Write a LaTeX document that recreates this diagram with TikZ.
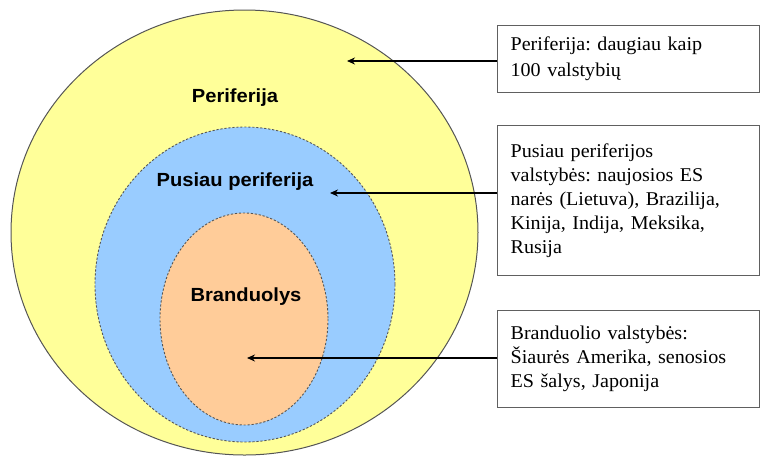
\documentclass[tikz,border=0pt]{standalone}
\usepackage{fontspec}
\setmainfont{Liberation Serif}
\newfontfamily\labelfont[FakeStretch=1.06]{Liberation Sans}
\newfontfamily\notefont[FakeStretch=1.03]{Liberation Serif}
\usetikzlibrary{arrows.meta}
\frenchspacing
\definecolor{periyellow}{HTML}{FFFF99}
\definecolor{semiblue}{HTML}{99CCFF}
\definecolor{coreorange}{HTML}{FFCC99}
\definecolor{rimgray}{HTML}{555555}
\tikzset{
  zonelabel/.style={font=\labelfont\bfseries\fontsize{19}{22}\selectfont, inner sep=0pt},
  dashedrim/.style={draw=rimgray, line width=0.9pt, dash pattern=on 2.2pt off 1.8pt},
  notebox/.style={draw=gray!75!black, line width=1.3pt, fill=white, anchor=north west,
    minimum width=262pt, text width=236pt, inner xsep=13pt, align=left,
    font=\notefont\fontsize{19.5}{24}\selectfont},
  pointer/.style={line width=1.4pt, -{Stealth[length=8pt,width=7pt]}}
}
\begin{document}
\begin{tikzpicture}[x=1pt,y=-1pt]
\useasboundingbox (0,0) rectangle (761,456);
% nested zones
\fill[periyellow] (244.5,232.5) ellipse [x radius=233.5, y radius=222.5];
\draw[rimgray, line width=1pt] (244.5,232.5) ellipse [x radius=233.5, y radius=222.5];
\fill[semiblue] (245,284.5) ellipse [x radius=150, y radius=157.5];
\draw[dashedrim] (245,284.5) ellipse [x radius=150, y radius=157.5];
\fill[coreorange] (244,319) ellipse [x radius=84, y radius=106];
\draw[dashedrim] (244,319) ellipse [x radius=84, y radius=106];
% zone names
\node[zonelabel] (lperi) at (235,98) {Periferija};
\node[zonelabel] (lsemi) at (235,182) {Pusiau periferija};
\node[zonelabel] (lcore) at (246,297) {Branduolys};
% explanatory boxes
\node[notebox, minimum height=67pt, font=\notefont\fontsize{19.5}{26}\selectfont] (b1) at (497,25)
  {Periferija: daugiau kaip\\100 valstybių};
\node[notebox, minimum height=150pt] (b2) at (497,125)
  {Pusiau periferijos\\valstybės: naujosios ES\\narės (Lietuva), Brazilija,\\Kinija, Indija, Meksika,\\Rusija};
\node[notebox, minimum height=97pt] (b3) at (497,310)
  {Branduolio valstybės:\\Šiaurės Amerika, senosios\\ES šalys, Japonija};
% pointers into the zones
\coordinate (t1) at (347,61);
\coordinate (t2) at (330,193);
\coordinate (t3) at (247,358);
\draw[pointer] (b1.west |- t1) -- (t1);
\draw[pointer] (b2.west |- t2) -- (t2);
\draw[pointer] (b3.west |- t3) -- (t3);
\end{tikzpicture}
\end{document}
